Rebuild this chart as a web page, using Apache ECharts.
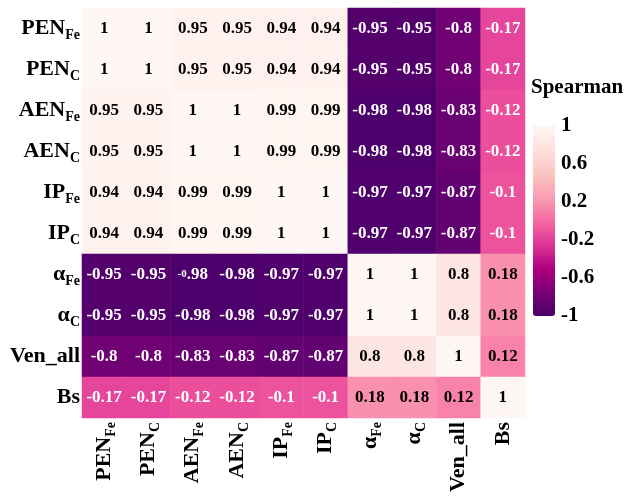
<!DOCTYPE html>
<html>
<head>
<meta charset="utf-8">
<script src="https://cdn.jsdelivr.net/npm/echarts@6/dist/echarts.min.js"></script>
<style>html,body{margin:0;padding:0;background:#fff}#c{width:630px;height:497px}</style>
</head>
<body>
<div id="c"></div>
<script>
const categories = ['PEN_Fe','PEN_C','AEN_Fe','AEN_C','IP_Fe','IP_C','α_Fe','α_C','Ven_all','Bs'];
const labelMain = ['PEN','PEN','AEN','AEN','IP','IP','α','α','Ven_all','Bs'];
const labelSub  = ['Fe','C','Fe','C','Fe','C','Fe','C','',''];
const rowPEN_Fe  = [1, 1, 0.95, 0.95, 0.94, 0.94, -0.95, -0.95, -0.8, -0.17];
const rowPEN_C   = [1, 1, 0.95, 0.95, 0.94, 0.94, -0.95, -0.95, -0.8, -0.17];
const rowAEN_Fe  = [0.95, 0.95, 1, 1, 0.99, 0.99, -0.98, -0.98, -0.83, -0.12];
const rowAEN_C   = [0.95, 0.95, 1, 1, 0.99, 0.99, -0.98, -0.98, -0.83, -0.12];
const rowIP_Fe   = [0.94, 0.94, 0.99, 0.99, 1, 1, -0.97, -0.97, -0.87, -0.1];
const rowIP_C    = [0.94, 0.94, 0.99, 0.99, 1, 1, -0.97, -0.97, -0.87, -0.1];
const rowA_Fe    = [-0.95, -0.95, -0.98, -0.98, -0.97, -0.97, 1, 1, 0.8, 0.18];
const rowA_C     = [-0.95, -0.95, -0.98, -0.98, -0.97, -0.97, 1, 1, 0.8, 0.18];
const rowVen_all = [-0.8, -0.8, -0.83, -0.83, -0.87, -0.87, 0.8, 0.8, 1, 0.12];
const rowBs      = [-0.17, -0.17, -0.12, -0.12, -0.1, -0.1, 0.18, 0.18, 0.12, 1];
const matrix = [rowPEN_Fe,rowPEN_C,rowAEN_Fe,rowAEN_C,rowIP_Fe,rowIP_C,rowA_Fe,rowA_C,rowVen_all,rowBs];
const colorbarTicks = [-1, -0.6, -0.2, 0.2, 0.6, 1];
const rdpu = ['#49006a','#7a0177','#ae017e','#dd3497','#f768a1','#fa9fb5','#fcc5c0','#fde0dd','#fff7f3'];

const FONT = "'Liberation Serif','Times New Roman',serif";
const data = [];
matrix.forEach((row, r) => row.forEach((v, c) => {
  const item = {value: [c, r, v], label: {color: v < 0 ? '#ffffff' : '#000000'}};
  if (r === 6 && c === 2) item.odd = true;
  data.push(item);
}));

function axisFmt(v) {
  const idx = categories.indexOf(v);
  const sub = labelSub[idx];
  return sub ? '{m|' + labelMain[idx] + '}{s|' + sub + '}' : '{m|' + labelMain[idx] + '}';
}
const rich = {
  m: {fontFamily: FONT, fontWeight: 'bold', fontSize: 22, color: '#000', lineHeight: 28},
  s: {fontFamily: FONT, fontWeight: 'bold', fontSize: 14, color: '#000', lineHeight: 13, verticalAlign: 'bottom'}
};

const chart = echarts.init(document.getElementById('c'), null, {renderer: 'canvas'});
chart.setOption({
  animation: false,
  backgroundColor: '#ffffff',
  title: {text: 'Spearman', left: 531, top: 77, padding: 0,
    textStyle: {fontFamily: FONT, fontWeight: 'bold', fontSize: 21, color: '#000'}},
  grid: [
    {left: 82, top: 8, width: 443, height: 410},
    {left: 533, top: 126, width: 22, height: 190}
  ],
  xAxis: [
    {type: 'category', data: categories, gridIndex: 0, position: 'bottom',
      axisLine: {show: false}, axisTick: {show: false}, splitLine: {show: false},
      axisLabel: {rotate: 90, margin: 4, formatter: axisFmt, rich: rich, interval: 0}},
    {type: 'value', gridIndex: 1, show: false}
  ],
  yAxis: [
    {type: 'category', data: categories, gridIndex: 0, inverse: true,
      axisLine: {show: false}, axisTick: {show: false}, splitLine: {show: false},
      axisLabel: {margin: 2, formatter: axisFmt, rich: rich, interval: 0}},
    {type: 'value', gridIndex: 1, position: 'right', min: colorbarTicks[0], max: colorbarTicks[colorbarTicks.length-1], interval: 0.4,
      axisLine: {show: false}, axisTick: {show: false}, splitLine: {show: false},
      axisLabel: {margin: 6, fontFamily: FONT, fontWeight: 'bold', fontSize: 21, color: '#000',
        formatter: v => String(+(+v).toFixed(1))}}
  ],
  visualMap: {
    type: 'continuous', min: -1, max: 1, calculable: false, seriesIndex: 0,
    left: 533, top: 126, itemWidth: 22, itemHeight: 190, padding: 0,
    text: null, showLabel: false,
    inRange: {color: rdpu}
  },
  series: [{
    type: 'heatmap', xAxisIndex: 0, yAxisIndex: 0, data: data,
    itemStyle: {borderWidth: 0},
    label: {show: true, fontFamily: FONT, fontWeight: 'bold', fontSize: 17,
      rich: {t: {fontFamily: FONT, fontWeight: 'bold', fontSize: 11, color: '#fff'}},
      formatter: p => {
        const s = String(p.value[2]);
        return p.data.odd ? '{t|' + s.slice(0, 2) + '}' + s.slice(2) : s;
      }},
    emphasis: {disabled: true}
  }]
});
</script>
</body>
</html>
